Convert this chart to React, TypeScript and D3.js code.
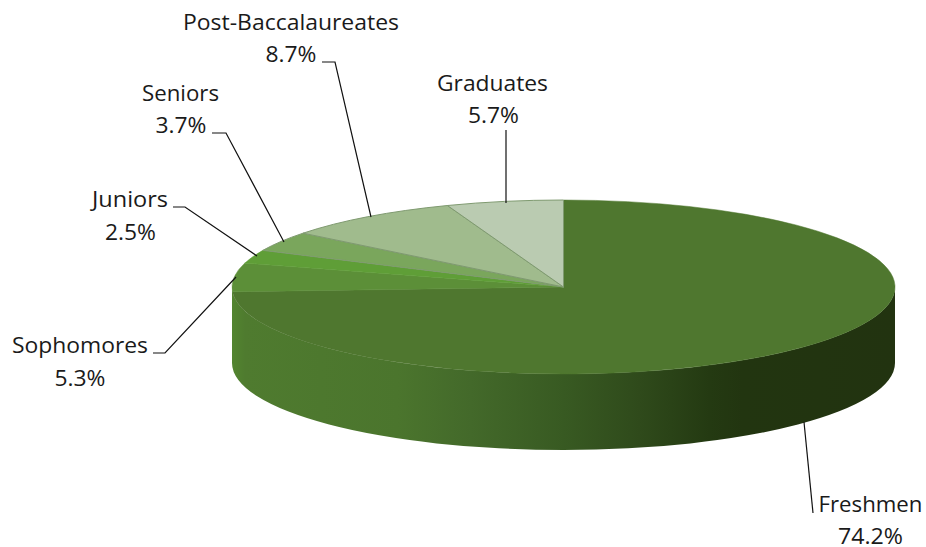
import React from "react";
import * as d3 from "d3";

const categories = ["Freshmen", "Sophomores", "Juniors", "Seniors", "Post-Baccalaureates", "Graduates"];
const shares = [74.2, 5.3, 2.5, 3.7, 8.7, 5.7];
const shareLabels = ["74.2%", "5.3%", "2.5%", "3.7%", "8.7%", "5.7%"];
const topColors = ["#4f772f", "#5c8f38", "#5f9e37", "#7aa65c", "#a0bb8d", "#bacbb1"];

const cx = 563.5, cy = 287, rx = 331.5, ry = 87, depth = 76;

const labelLayout = [
  { name: [870.5, 512], nameW: 104, pct: [870.5, 544], pctW: 65, line: [[804, 422], [813, 513]] },
  { name: [80, 353], nameW: 136, pct: [80, 386], pctW: 51, line: [[153, 353], [165, 353], [236, 277]] },
  { name: [130, 207], nameW: 76, pct: [130.5, 240], pctW: 51, line: [[173, 207], [185, 207], [257, 256]] },
  { name: [180.5, 100.5], nameW: 77, pct: [181, 133], pctW: 51, line: [[212, 133], [226, 133], [284, 242]] },
  { name: [291, 30], nameW: 216, pct: [291, 62], pctW: 51, line: [[322, 62], [335, 62], [371, 217]] },
  { name: [492.5, 91], nameW: 111, pct: [493.5, 123], pctW: 51, line: [[506, 130], [506, 203]] },
];

const sideStops: [number, string][] = [
  [0, "#52852f"], [0.02, "#4f7b2f"], [0.25, "#4b752d"], [0.36, "#43692a"], [0.5, "#385a22"],
  [0.615, "#2f4a1b"], [0.72, "#243a12"], [0.77, "#223510"], [1, "#223310"],
];

export default function App() {
  const pie = d3.pie<number>().value((d) => d).sort(null);
  const slices = pie(shares);
  const arc = d3.arc<d3.PieArcDatum<number>>().innerRadius(0).outerRadius(rx);

  const wallPath =
    `M${cx - rx},${cy} A${rx},${ry} 0 0 0 ${cx + rx},${cy} ` +
    `L${cx + rx},${cy + depth} A${rx},${ry} 0 0 1 ${cx - rx},${cy + depth} Z`;

  const font = "'Open Sans', Lato, sans-serif";
  return (
    <svg width={926} height={547} style={{ position: "absolute", left: 0, top: 0, background: "#fff" }}>
      <defs>
        <linearGradient id="side" x1={cx - rx} x2={cx + rx} y1={0} y2={0} gradientUnits="userSpaceOnUse">
          {sideStops.map(([o, c]) => (
            <stop key={o} offset={o} stopColor={c} />
          ))}
        </linearGradient>
      </defs>
      <path d={wallPath} fill="url(#side)" />
      <g transform={`translate(${cx},${cy}) scale(1,${ry / rx})`}>
        {slices.map((s, i) => (
          <path
            key={categories[i]}
            d={arc(s) ?? ""}
            fill={topColors[i]}
            stroke={i > 2 ? "#7f9a70" : topColors[i]}
            strokeWidth={i > 2 ? 1 : 0.5}
            vectorEffect="non-scaling-stroke"
          />
        ))}
      </g>
      {labelLayout.map((l, i) => (
        <path
          key={categories[i]}
          d={d3.line()(l.line as [number, number][]) ?? ""}
          fill="none"
          stroke="#111"
          strokeWidth={1.2}
        />
      ))}
      <g fontFamily={font} fontSize={22} fill="#1a1a1a" textAnchor="middle">
        {labelLayout.map((l, i) => (
          <g key={categories[i]}>
            <text x={l.name[0]} y={l.name[1]} textLength={l.nameW} lengthAdjust="spacingAndGlyphs">{categories[i]}</text>
            <text x={l.pct[0]} y={l.pct[1]} textLength={l.pctW} lengthAdjust="spacingAndGlyphs">{shareLabels[i]}</text>
          </g>
        ))}
      </g>
    </svg>
  );
}
